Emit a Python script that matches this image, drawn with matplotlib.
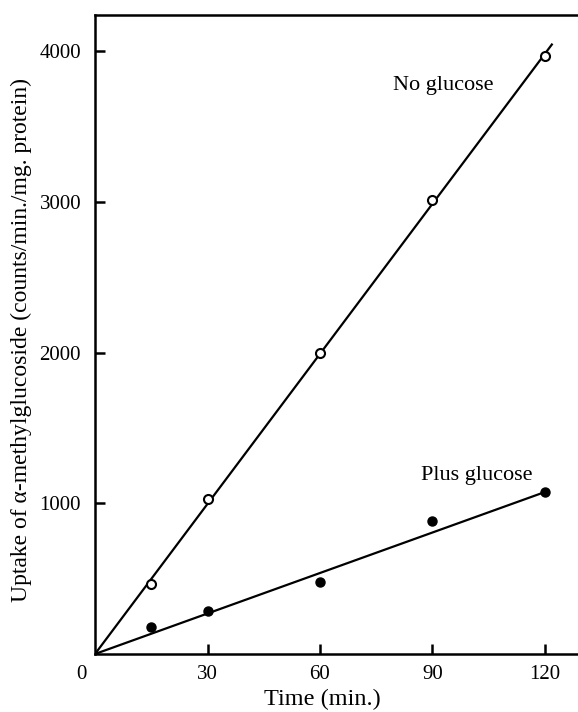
import matplotlib
matplotlib.use("Agg")
import matplotlib.pyplot as plt

# Data
time_pts = [15, 30, 60, 90, 120]
no_glucose = [465, 1030, 1995, 3015, 3970]
plus_glucose = [180, 285, 475, 880, 1075]

# fitted straight lines (through origin)
fit_no_x = [0, 122]
fit_no_y = [0, 4050]
fit_plus_x = [0, 120]
fit_plus_y = [0, 1075]

xticks = [30, 60, 90, 120]
yticks = [1000, 2000, 3000, 4000]

plt.rcParams['font.family'] = ['Liberation Serif', 'DejaVu Serif']

fig = plt.figure(figsize=(5.78, 7.12), dpi=100)
ax = fig.add_axes([95/578, 58/712, 1 - 95/578, (654-15)/712])

ax.plot(fit_no_x, fit_no_y, color='black', lw=1.6, solid_capstyle='butt')
ax.plot(fit_plus_x, fit_plus_y, color='black', lw=1.6, solid_capstyle='butt')
ax.plot(time_pts, no_glucose, 'o', ms=6.5, mfc='white', mec='black', mew=1.5, zorder=3)
ax.plot(time_pts, plus_glucose, 'o', ms=6.5, mfc='black', mec='black', mew=1.0, zorder=3)

ax.set_xlim(0, 128.8)
ax.set_ylim(0, 4240)
ax.set_xticks(xticks)
ax.set_yticks(yticks)
ax.tick_params(direction='in', length=7, width=1.8, labelsize=15, colors='black')
ax.tick_params(axis='y', pad=10)
ax.tick_params(axis='x', pad=8)
for s in ['left', 'bottom', 'top']:
    ax.spines[s].set_linewidth(1.8)
ax.spines['right'].set_visible(False)

ax.text(-3.5, -75, '0', ha='center', va='top', fontsize=15)

ax.text(79.5, 3770, 'No glucose', ha='left', va='center', fontsize=16)
ax.text(87, 1184, 'Plus glucose', ha='left', va='center', fontsize=16)

ax.set_xlabel('Time (min.)', fontsize=17.5)
ax.xaxis.set_label_coords(60.5/128.8, -0.054)
ax.set_ylabel('Uptake of α-methylglucoside (counts/min./mg. protein)', fontsize=17)
ax.yaxis.set_label_coords(-0.13, 0.491)

fig.savefig('out.png', dpi=100)
